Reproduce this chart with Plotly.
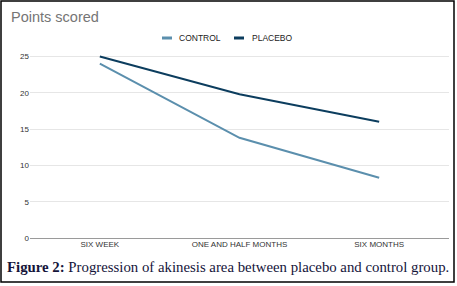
import plotly.graph_objects as go

categories = ["SIX WEEK", "ONE AND HALF MONTHS", "SIX MONTHS"]
control = [24.0, 13.8, 8.3]
placebo = [25.0, 19.8, 16.0]
series_names = ["CONTROL", "PLACEBO"]
colors = ["#5b8fad", "#0c3d5e"]

W, H = 457, 286
L, R, T, B = 30, 8, 55, 48
pw, ph = W - L - R, H - T - B

def px(x):
    return (x - L) / pw

def py(y):
    return (H - B - y) / ph

fig = go.Figure()
for name, vals, c in zip(series_names, [control, placebo], colors):
    fig.add_trace(go.Scatter(x=categories, y=vals, mode="lines", name=name,
                             line=dict(color=c, width=2), showlegend=False))

shapes = []
annotations = []
# manual legend
leg = [(162, 177), (234, 250)]
for (sx, tx), name, c in zip(leg, series_names, colors):
    shapes.append(dict(type="line", xref="paper", yref="paper",
                       x0=px(sx), x1=px(sx + 10), y0=py(38), y1=py(38),
                       line=dict(color=c, width=3)))
    annotations.append(dict(text=name, xref="paper", yref="paper",
                            x=px(tx), y=py(38), xanchor="left", yanchor="middle",
                            showarrow=False, font=dict(size=8.5, color="#222222",
                                                       family="Liberation Sans")))
# title
annotations.append(dict(text="Points scored", xref="paper", yref="paper",
                        x=px(9), y=py(17), xanchor="left", yanchor="middle",
                        showarrow=False, font=dict(size=14.5, color="#757575",
                                                   family="Liberation Sans")))
# caption
annotations.append(dict(text="<b>Figure 2:</b> Progression of akinesis area between placebo and control group.",
                        xref="paper", yref="paper", x=px(5), y=py(267),
                        xanchor="left", yanchor="middle", showarrow=False,
                        font=dict(size=14.8, color="#14143a", family="Liberation Serif")))
# frame
shapes.append(dict(type="rect", xref="paper", yref="paper",
                   x0=px(1), x1=px(454), y0=py(1), y1=py(282),
                   line=dict(color="black", width=1.5)))

fig.update_layout(
    width=W, height=H,
    margin=dict(l=L, r=R, t=T, b=B, autoexpand=False),
    paper_bgcolor="white", plot_bgcolor="white",
    shapes=shapes, annotations=annotations,
    xaxis=dict(showgrid=False, range=[-0.5, 2.5], automargin=False,
               tickfont=dict(size=8, color="#333333", family="Liberation Sans"),
               ticks="", showline=False, zeroline=False),
    yaxis=dict(range=[0, 25.2], dtick=5, gridcolor="#e6e6e6", gridwidth=1, automargin=False,
               zeroline=True, zerolinecolor="#9a9a9a", zerolinewidth=1,
               tickfont=dict(size=8, color="#333333", family="Liberation Sans"),
               ticks="", showline=False),
)
fig.write_html("out.html", config={"displayModeBar": False},
               post_script="document.body.style.margin='0';document.body.style.overflow='hidden';")
